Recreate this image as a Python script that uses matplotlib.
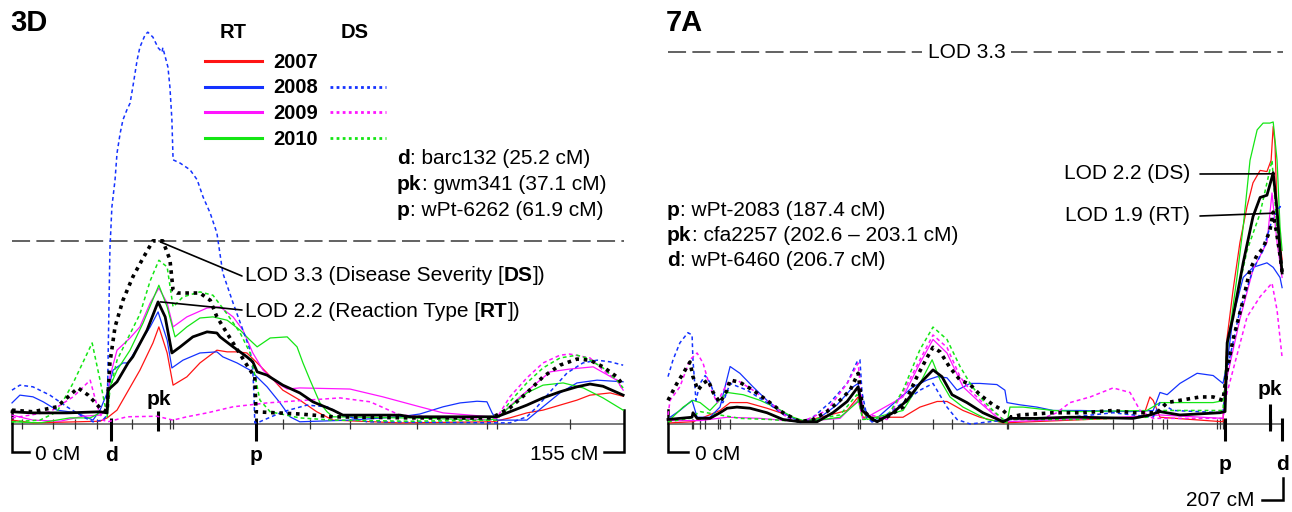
import numpy as np
import matplotlib
matplotlib.use('Agg')
import matplotlib.pyplot as plt
import matplotlib.transforms as mtransforms

plt.rcParams['font.family'] = ['Liberation Sans', 'DejaVu Sans']

YEAR_COLORS = {'2007': '#ff1414', '2008': '#1432ff', '2009': '#ff14ff', '2010': '#14e614'}
YEARS = ['2007', '2008', '2009', '2010']

# ---------------- chromosome 3D : (cM, LOD) ----------------
len_3d = 155.0
thr_3d = 3.3
mk_3d = {'d': 25.2, 'pk': 37.1, 'p': 61.9}
ticks_3d = [2.5, 10.4, 16.0, 21.5, 30.4, 40.0, 40.8, 68.6, 75.5, 85.6, 102.6, 120.3, 122.8, 141.3]

rt_mean_3d = [(0.0, 0.22), (5.3, 0.20), (13.9, 0.20), (22.3, 0.22), (24.1, 0.20), (24.3, 0.61), (26.6, 0.76),
              (29.4, 1.10), (30.6, 1.21), (34.2, 1.69), (37.0, 2.20), (38.8, 1.93), (40.5, 1.28), (42.6, 1.39),
              (45.8, 1.57), (49.4, 1.66), (51.9, 1.64), (52.7, 1.57), (56.0, 1.39), (59.5, 1.21), (61.0, 1.12),
              (62.1, 0.94), (64.6, 0.88), (68.6, 0.70), (72.9, 0.56), (76.2, 0.40), (81.3, 0.25), (83.8, 0.16),
              (89.9, 0.16), (98.3, 0.16), (100.8, 0.13), (121.1, 0.13), (122.8, 0.13), (126.1, 0.22),
              (130.4, 0.34), (134.5, 0.47), (138.8, 0.58), (143.1, 0.67), (146.4, 0.72), (149.7, 0.68),
              (154.8, 0.52)]
ds_mean_3d = [(0.0, 0.25), (5.3, 0.22), (11.4, 0.31), (14.7, 0.52), (16.7, 0.65), (19.3, 0.52), (22.3, 0.29),
              (24.1, 0.22), (24.3, 0.52), (24.8, 1.10), (26.1, 1.75), (28.1, 2.23), (30.6, 2.65), (33.2, 2.99),
              (35.7, 3.30), (38.2, 3.30), (40.0, 2.96), (40.8, 2.41), (41.8, 2.36), (47.6, 2.36), (50.2, 2.23),
              (51.9, 1.93), (56.0, 1.46), (60.3, 0.97), (61.5, 0.85), (61.8, 0.22), (72.9, 0.18), (81.3, 0.13),
              (100.8, 0.11), (121.1, 0.11), (122.8, 0.16), (126.1, 0.29), (130.4, 0.56), (134.5, 0.85),
              (138.8, 1.06), (143.1, 1.17), (146.4, 1.15), (149.7, 1.03), (153.2, 0.85), (154.8, 0.70)]
rt_3d_2007 = [(0.0, 0.07), (5.3, 0.02), (22.3, 0.05), (24.1, 0.11), (26.6, 0.25), (29.1, 0.56), (32.4, 0.97),
              (35.7, 1.46), (37.2, 1.75), (39.3, 1.28), (40.8, 0.70), (44.3, 0.85), (47.6, 1.10), (51.9, 1.33),
              (54.5, 1.30), (57.0, 1.30), (59.5, 1.28), (62.1, 1.10), (64.6, 0.92), (68.6, 0.61), (72.9, 0.43),
              (77.2, 0.22), (81.3, 0.07), (98.3, 0.02), (121.8, 0.04), (126.1, 0.11), (130.4, 0.20),
              (134.5, 0.25), (138.8, 0.34), (143.1, 0.43), (146.4, 0.52), (151.5, 0.56), (154.8, 0.50)]
rt_3d_2008 = [(0.0, 0.38), (2.0, 0.52), (5.3, 0.49), (7.9, 0.40), (11.4, 0.25), (16.5, 0.20), (20.5, 0.07),
              (22.3, 0.25), (24.1, 0.56), (25.6, 0.97), (28.1, 1.10), (29.4, 1.10), (32.4, 1.46), (35.0, 1.75),
              (37.0, 2.02), (39.3, 1.51), (40.5, 1.01), (43.3, 1.15), (47.6, 1.28), (51.9, 1.30), (53.4, 1.21),
              (57.0, 1.10), (60.3, 0.97), (64.6, 0.67), (67.9, 0.38), (70.4, 0.13), (72.9, 0.04), (85.6, 0.07),
              (98.3, 0.13), (103.3, 0.18), (109.2, 0.31), (113.5, 0.38), (117.8, 0.41), (120.3, 0.40),
              (121.6, 0.20), (122.8, 0.07), (130.4, 0.07), (134.5, 0.31), (138.8, 0.56), (143.1, 0.74),
              (148.2, 0.79), (154.8, 0.76)]
rt_3d_2009 = [(0.0, 0.16), (5.3, 0.07), (12.2, 0.05), (18.0, 0.14), (22.3, 0.16), (24.1, 0.25), (24.8, 0.85),
              (26.6, 1.33), (29.9, 1.55), (32.4, 1.75), (35.0, 2.18), (37.2, 2.45), (39.3, 2.18), (40.8, 1.75),
              (44.3, 1.93), (49.4, 2.09), (52.7, 2.11), (56.0, 1.93), (58.5, 1.69), (61.0, 1.28), (63.6, 0.97),
              (67.1, 0.74), (69.7, 0.63), (72.9, 0.65), (85.6, 0.63), (93.9, 0.49), (103.3, 0.31), (109.2, 0.20),
              (121.1, 0.13), (122.8, 0.11), (128.7, 0.49), (136.3, 0.94), (141.3, 0.99), (147.2, 1.03),
              (153.2, 0.79), (154.8, 0.61)]
rt_3d_2010 = [(0.0, 0.04), (7.1, 0.02), (14.7, 0.11), (19.8, 0.11), (22.3, 0.20), (24.1, 0.25), (24.8, 0.67),
              (26.6, 0.97), (29.9, 1.33), (33.2, 1.82), (37.2, 2.50), (39.3, 2.11), (41.3, 1.57), (44.3, 1.75),
              (47.6, 1.91), (50.9, 1.93), (54.5, 1.87), (57.8, 1.69), (60.3, 1.51), (62.1, 1.39), (65.4, 1.55),
              (69.7, 1.57), (72.2, 1.39), (73.7, 1.10), (75.5, 0.79), (78.0, 0.38), (79.8, 0.22), (81.3, 0.13),
              (98.3, 0.11), (100.8, 0.11), (121.1, 0.07), (122.8, 0.11), (126.1, 0.31), (130.4, 0.56),
              (134.5, 0.70), (139.6, 0.74), (144.7, 0.65), (149.7, 0.47), (154.8, 0.25)]
ds_3d_2008 = [(0.0, 0.61), (2.0, 0.70), (5.3, 0.67), (9.6, 0.52), (13.9, 0.31), (18.0, 0.13), (20.5, 0.04),
              (23.0, 0.07), (24.1, 0.16), (24.8, 3.14), (25.3, 3.91), (26.1, 4.40), (26.6, 4.88), (27.4, 5.24),
              (28.1, 5.48), (29.1, 5.66), (29.9, 5.78), (30.6, 6.07), (31.7, 6.56), (32.4, 6.79), (33.7, 7.01),
              (34.4, 7.06), (35.7, 6.97), (37.0, 6.78), (38.0, 6.70), (38.2, 6.78), (39.5, 6.43), (40.0, 6.07),
              (40.5, 5.48), (40.8, 4.76), (42.6, 4.70), (45.1, 4.58), (46.9, 4.40), (48.4, 4.09), (50.2, 3.80),
              (51.9, 3.44), (53.4, 2.72), (56.0, 2.18), (58.5, 1.69), (60.3, 1.33), (61.0, 0.97), (61.3, 0.49),
              (61.5, 0.02), (62.1, 0.02), (68.6, 0.22), (74.7, 0.34), (79.8, 0.31), (83.8, 0.16), (89.9, 0.04),
              (123.6, 0.02), (126.1, 0.02), (130.4, 0.13), (133.0, 0.31), (136.3, 0.58), (140.6, 0.92),
              (144.6, 1.10), (148.2, 1.15), (151.5, 1.12), (154.8, 1.06)]
ds_3d_2009 = [(0.0, 0.11), (4.6, 0.16), (9.6, 0.22), (15.5, 0.49), (19.8, 0.79), (21.5, 0.34), (23.0, 0.07),
              (24.3, 0.04), (29.1, 0.13), (36.7, 0.14), (40.8, 0.07), (44.3, 0.13), (49.4, 0.20), (56.0, 0.31),
              (64.6, 0.38), (68.6, 0.40), (74.7, 0.43), (83.1, 0.47), (90.7, 0.40), (98.3, 0.16), (121.1, 0.07),
              (122.8, 0.11), (126.1, 0.49), (130.4, 0.83), (134.5, 1.10), (138.8, 1.24), (141.3, 1.26),
              (146.4, 1.19), (149.7, 0.97), (153.2, 0.79), (154.8, 0.61)]
ds_3d_2010 = [(0.0, 0.04), (7.1, 0.07), (11.4, 0.22), (15.5, 0.74), (20.3, 1.46), (22.3, 0.79), (24.1, 0.13),
              (24.8, 0.61), (26.6, 1.15), (29.1, 1.51), (32.4, 1.98), (35.0, 2.58), (37.2, 2.95), (39.3, 2.83),
              (40.8, 2.11), (43.3, 2.29), (47.6, 2.38), (50.9, 2.32), (54.5, 1.98), (57.8, 1.64), (60.3, 1.28),
              (61.5, 0.88), (62.8, 0.43), (65.4, 0.22), (72.9, 0.11), (81.3, 0.07), (100.8, 0.05), (122.8, 0.07),
              (126.1, 0.40), (130.4, 0.74), (134.5, 1.01), (138.8, 1.19), (143.1, 1.24), (145.6, 1.19),
              (149.7, 1.01), (153.2, 0.79), (154.8, 0.65)]

# ---------------- chromosome 7A : (cM, LOD) ----------------
len_7a = 207.0
thr_7a = 3.3
mk_7a = {'p': 187.4, 'pk': 202.6, 'd': 206.7}
ticks_7a = [8.1, 8.4, 10.8, 12.5, 16.8, 17.5, 20.9, 55.5, 64.0, 64.6, 72.0, 89.2, 95.6, 114.1, 114.4,
            149.8, 156.5, 162.9, 166.6, 168.0, 184.8, 185.8, 186.8, 203.1]

rt_mean_7a = [(0.0, 0.04), (4.0, 0.05), (8.1, 0.06), (8.4, 0.10), (9.8, 0.05), (14.1, 0.05), (17.5, 0.10),
              (19.9, 0.14), (23.2, 0.15), (27.6, 0.14), (33.3, 0.10), (38.7, 0.04), (44.4, 0.02), (50.2, 0.02),
              (55.5, 0.10), (60.3, 0.20), (64.0, 0.33), (65.3, 0.12), (69.0, 0.04), (70.4, 0.02), (75.7, 0.10),
              (80.5, 0.21), (84.8, 0.36), (89.2, 0.48), (92.2, 0.42), (95.6, 0.26), (100.6, 0.19), (106.0, 0.10),
              (112.8, 0.02), (115.1, 0.05), (124.2, 0.05), (135.3, 0.06), (138.7, 0.06), (156.5, 0.05),
              (162.2, 0.08), (165.6, 0.11), (172.3, 0.08), (185.8, 0.10), (187.5, 0.11), (188.2, 0.72),
              (190.2, 0.95), (193.6, 1.43), (196.9, 1.84), (199.3, 2.01), (201.6, 2.03), (203.3, 2.19),
              (203.7, 2.23), (205.0, 1.90), (206.0, 1.54), (206.7, 1.34)]
ds_mean_7a = [(0.0, 0.21), (3.0, 0.36), (5.1, 0.45), (7.4, 0.55), (8.4, 0.42), (10.1, 0.30), (11.8, 0.36),
              (13.5, 0.39), (15.2, 0.28), (17.5, 0.19), (19.9, 0.30), (20.9, 0.39), (24.2, 0.37), (28.6, 0.30),
              (33.3, 0.21), (38.7, 0.10), (44.4, 0.02), (48.8, 0.04), (53.5, 0.11), (57.9, 0.21), (61.3, 0.30),
              (64.0, 0.45), (65.6, 0.12), (69.0, 0.04), (72.4, 0.04), (79.1, 0.15), (83.8, 0.42), (87.2, 0.59),
              (89.2, 0.68), (91.6, 0.64), (94.9, 0.50), (98.3, 0.39), (101.7, 0.35), (105.0, 0.26), (109.4, 0.17),
              (112.8, 0.12), (115.1, 0.06), (118.5, 0.08), (129.6, 0.10), (139.7, 0.10), (149.8, 0.12),
              (156.5, 0.10), (164.6, 0.10), (168.0, 0.19), (172.3, 0.21), (179.1, 0.24), (183.5, 0.24),
              (186.8, 0.21), (188.2, 0.48), (190.2, 0.75), (193.6, 1.10), (195.9, 1.37), (198.3, 1.50),
              (200.3, 1.56), (202.6, 1.72), (203.7, 1.88), (205.0, 1.67), (206.0, 1.50), (206.7, 1.35)]
rt_7a_2007 = [(0.7, 0.01), (8.4, 0.02), (17.5, 0.12), (20.9, 0.19), (26.6, 0.19), (33.3, 0.14), (40.1, 0.08),
              (45.4, 0.02), (60.3, 0.12), (64.0, 0.24), (65.6, 0.06), (79.1, 0.06), (84.8, 0.15), (90.6, 0.20),
              (93.9, 0.20), (99.3, 0.12), (105.0, 0.06), (112.8, 0.01), (159.9, 0.06), (162.2, 0.24),
              (163.3, 0.21), (165.6, 0.06), (186.8, 0.02), (188.2, 0.77), (190.2, 1.19), (192.5, 1.61),
              (194.9, 1.93), (196.9, 2.14), (199.3, 2.25), (201.6, 2.24), (203.0, 2.34), (203.7, 2.64),
              (204.3, 2.49), (205.0, 1.90), (206.0, 1.61), (206.7, 1.46)]
rt_7a_2008 = [(0.7, 0.06), (4.0, 0.12), (8.1, 0.21), (9.8, 0.06), (14.1, 0.06), (17.5, 0.15), (20.9, 0.51),
              (24.2, 0.45), (28.6, 0.33), (33.3, 0.21), (38.7, 0.10), (44.4, 0.02), (50.2, 0.04), (56.9, 0.17),
              (62.3, 0.33), (64.0, 0.36), (65.6, 0.15), (69.0, 0.02), (72.4, 0.10), (77.1, 0.21), (82.5, 0.33),
              (87.2, 0.39), (90.6, 0.42), (93.9, 0.41), (97.3, 0.30), (101.7, 0.36), (105.0, 0.36), (110.7, 0.35),
              (113.4, 0.30), (114.1, 0.19), (118.5, 0.17), (124.2, 0.15), (129.6, 0.12), (138.7, 0.12),
              (155.5, 0.11), (163.3, 0.12), (165.6, 0.28), (168.0, 0.26), (172.3, 0.36), (178.1, 0.45),
              (183.5, 0.43), (186.8, 0.36), (188.2, 0.54), (190.2, 0.95), (193.6, 1.30), (196.9, 1.39),
              (201.6, 1.43), (203.7, 1.39), (206.0, 1.30), (206.7, 1.21)]
rt_7a_2009 = [(0.0, 0.03), (10.8, 0.03), (19.9, 0.06), (31.0, 0.05), (44.4, 0.02), (57.9, 0.05), (64.0, 0.21),
              (65.6, 0.04), (79.1, 0.24), (84.8, 0.54), (89.2, 0.75), (93.9, 0.63), (99.3, 0.33), (105.0, 0.19),
              (110.7, 0.06), (112.8, 0.02), (145.4, 0.05), (165.6, 0.08), (186.8, 0.05), (188.2, 0.42),
              (192.5, 0.93), (196.9, 1.37), (201.6, 1.61), (203.3, 2.05), (205.0, 1.61), (206.7, 1.30)]
rt_7a_2010 = [(0.7, 0.04), (5.1, 0.15), (8.4, 0.21), (10.8, 0.19), (14.1, 0.12), (19.9, 0.28), (25.3, 0.26),
              (31.0, 0.21), (36.7, 0.14), (42.1, 0.06), (46.8, 0.02), (57.9, 0.06), (63.6, 0.19), (64.6, 0.21),
              (67.0, 0.04), (79.1, 0.12), (84.8, 0.36), (88.9, 0.57), (91.6, 0.39), (94.9, 0.24), (99.3, 0.15),
              (107.4, 0.04), (114.1, 0.01), (115.1, 0.15), (119.5, 0.15), (129.6, 0.12), (138.7, 0.11),
              (161.2, 0.12), (165.6, 0.19), (172.3, 0.19), (183.5, 0.19), (187.5, 0.21), (188.2, 0.66),
              (191.5, 1.30), (193.6, 1.75), (195.9, 2.34), (198.3, 2.61), (200.3, 2.67), (202.6, 2.67),
              (203.7, 2.68), (205.0, 2.34), (206.0, 1.75), (206.7, 1.54)]
ds_7a_2008 = [(0.0, 0.42), (1.7, 0.57), (4.0, 0.72), (6.7, 0.81), (8.1, 0.79), (8.4, 0.57), (9.4, 0.21),
              (10.8, 0.36), (12.5, 0.43), (14.1, 0.37), (16.5, 0.20), (18.5, 0.19), (20.9, 0.36), (26.6, 0.30),
              (33.3, 0.19), (40.1, 0.06), (44.4, 0.01), (48.8, 0.06), (54.5, 0.19), (60.3, 0.36), (63.6, 0.55),
              (64.6, 0.57), (65.3, 0.28), (67.0, 0.06), (69.0, 0.01), (72.4, 0.06), (79.1, 0.19), (84.8, 0.30),
              (89.2, 0.36), (93.9, 0.15), (97.3, 0.04), (101.7, 0.00), (115.1, 0.04), (135.3, 0.06),
              (149.8, 0.10), (163.3, 0.06), (165.6, 0.19), (170.0, 0.12), (186.8, 0.10), (188.2, 0.48),
              (192.5, 1.01), (196.9, 1.37), (200.3, 1.54), (203.3, 1.81), (206.0, 1.93), (206.7, 1.90)]
ds_7a_2009 = [(0.0, 0.08), (0.7, 0.21), (4.0, 0.33), (7.4, 0.57), (9.8, 0.63), (11.8, 0.54), (14.1, 0.33),
              (16.5, 0.19), (19.9, 0.36), (23.2, 0.39), (28.6, 0.30), (34.3, 0.19), (40.1, 0.06), (44.4, 0.01),
              (53.5, 0.12), (60.3, 0.36), (64.0, 0.54), (65.6, 0.10), (73.7, 0.04), (79.1, 0.28), (84.8, 0.57),
              (89.2, 0.79), (93.9, 0.68), (98.3, 0.42), (101.7, 0.30), (107.4, 0.15), (112.8, 0.04),
              (125.2, 0.04), (130.9, 0.10), (135.3, 0.19), (142.1, 0.24), (149.8, 0.32), (155.5, 0.28),
              (158.9, 0.12), (163.3, 0.05), (186.8, 0.05), (188.2, 0.28), (194.9, 0.95), (199.3, 1.13),
              (203.3, 1.25), (205.0, 1.01), (206.7, 0.59)]
ds_7a_2010 = [(0.0, 0.02), (7.4, 0.05), (10.8, 0.11), (17.5, 0.08), (24.2, 0.05), (34.3, 0.04), (44.4, 0.02),
              (57.9, 0.08), (63.6, 0.26), (65.6, 0.04), (73.7, 0.06), (79.1, 0.30), (84.8, 0.66), (89.2, 0.86),
              (93.9, 0.75), (98.3, 0.51), (101.7, 0.36), (105.0, 0.24), (109.4, 0.12), (112.8, 0.04),
              (138.7, 0.04), (161.2, 0.06), (165.6, 0.12), (172.3, 0.12), (186.8, 0.12), (188.2, 0.72),
              (191.5, 1.13), (194.9, 1.54), (199.3, 1.87), (203.3, 2.34), (205.0, 1.72), (206.7, 1.37)]

# ---------------- figure layout (pixel frame of the original) ----------------
W, H = 1292, 512
fig = plt.figure(figsize=(W / 100, H / 100), dpi=100)


def panel(x0, x1, cm0_px, px_per_cm, base_px, px_per_lod):
    ax = fig.add_axes([x0 / W, 0, (x1 - x0) / W, 1])
    ax.set_xlim((x0 - cm0_px) / px_per_cm, (x1 - cm0_px) / px_per_cm)
    ax.set_ylim((base_px - H) / px_per_lod, base_px / px_per_lod)
    ax.axis('off')
    return ax


ax3 = panel(0, 640, 12, 3.948, 424, 55.5)
ax7 = panel(640, W, 668, 2.971, 424, 112.7)

ov = fig.add_axes([0, 0, 1, 1])
ov.set_xlim(0, W)
ov.set_ylim(H, 0)
ov.axis('off')
ov.patch.set_alpha(0)
ov.set_zorder(5)

FS = 15


def draw_scan(ax, rt, ds, rt_mean, ds_mean, length, thr):
    ax.plot([0, length], [0, 0], color='#555555', lw=1.1, zorder=1)
    ax.plot([0, length], [thr, thr], color='#555555', lw=1.3, ls=(0, (10, 3.5)), zorder=1)
    for year, pts in rt.items():
        x, y = np.array(pts).T
        ax.plot(x, y, color=YEAR_COLORS[year], lw=0.9, zorder=3)
    for year, pts in ds.items():
        x, y = np.array(pts).T
        ax.plot(x, y, color=YEAR_COLORS[year], lw=1.1, ls=(0, (2.5, 2)), zorder=3)
    x, y = np.array(ds_mean).T
    ax.plot(x, y, color='black', lw=2.6, ls=(0, (1, 1.3)), zorder=4)
    x, y = np.array(rt_mean).T
    ax.plot(x, y, color='black', lw=2.0, zorder=4)


def rich(x, y, parts, size=FS):
    t = ov.text(x, y, parts[0][0], fontsize=size, fontweight='bold' if parts[0][1] else 'normal',
                va='baseline', ha='left')
    for s, b in parts[1:]:
        t = ov.annotate(s, xy=(1, 0), xycoords=t, fontsize=size,
                        fontweight='bold' if b else 'normal', va='bottom', ha='left')


draw_scan(ax3, {'2007': rt_3d_2007, '2008': rt_3d_2008, '2009': rt_3d_2009, '2010': rt_3d_2010},
          {'2008': ds_3d_2008, '2009': ds_3d_2009, '2010': ds_3d_2010},
          rt_mean_3d, ds_mean_3d, len_3d, thr_3d)
draw_scan(ax7, {'2007': rt_7a_2007, '2008': rt_7a_2008, '2009': rt_7a_2009, '2010': rt_7a_2010},
          {'2008': ds_7a_2008, '2009': ds_7a_2009, '2010': ds_7a_2010},
          rt_mean_7a, ds_mean_7a, len_7a, thr_7a)

# marker ticks on the linkage maps (x in cM, y in pixel rows)
tr3 = mtransforms.blended_transform_factory(ax3.transData, ov.transData)
tr7 = mtransforms.blended_transform_factory(ax7.transData, ov.transData)

ax3.vlines(ticks_3d, 419, 429, transform=tr3, color='#333333', lw=0.9)
ax3.vlines([mk_3d['d'], mk_3d['p']], 418, 441, transform=tr3, color='black', lw=2.2)
ax3.vlines([mk_3d['pk']], 411, 431, transform=tr3, color='black', lw=2.2)
ax3.plot([0, 0, 4.2], [410, 452, 452], transform=tr3, color='black', lw=1.8, solid_joinstyle='miter')
ax3.plot([len_3d, len_3d, len_3d - 5], [410, 452, 452], transform=tr3, color='black', lw=1.8,
         solid_joinstyle='miter')
ov.text(35, 460, '0 cM', fontsize=FS, va='baseline')
ov.text(598, 460, '%d cM' % len_3d, fontsize=FS, va='baseline', ha='right')
ax3.text(mk_3d['d'], 461, 'd', transform=tr3, fontsize=FS, fontweight='bold', ha='center', va='baseline')
ax3.text(mk_3d['p'], 461, 'p', transform=tr3, fontsize=FS, fontweight='bold', ha='center', va='baseline')
ax3.text(mk_3d['pk'], 405, 'pk', transform=tr3, fontsize=FS, fontweight='bold', ha='center', va='baseline')

ax7.vlines(ticks_7a, 419, 429, transform=tr7, color='#333333', lw=0.9)
ax7.vlines([mk_7a['d'], mk_7a['p']], 418, 441, transform=tr7, color='black', lw=2.2)
ax7.vlines([mk_7a['pk']], 404, 431, transform=tr7, color='black', lw=2.2)
ax7.plot([0, 0, 6.7], [410, 452, 452], transform=tr7, color='black', lw=1.8, solid_joinstyle='miter')
ax7.plot([len_7a, len_7a, len_7a - 7], [478, 500, 500], transform=tr7, color='black', lw=1.8,
         solid_joinstyle='miter')
ov.text(695, 460, '0 cM', fontsize=FS, va='baseline')
ov.text(1255, 506, '%d cM' % len_7a, fontsize=FS, va='baseline', ha='right')
ax7.text(mk_7a['p'], 470, 'p', transform=tr7, fontsize=FS, fontweight='bold', ha='center', va='baseline')
ax7.text(mk_7a['d'], 470, 'd', transform=tr7, fontsize=FS, fontweight='bold', ha='center', va='baseline')
ax7.text(mk_7a['pk'], 395, 'pk', transform=tr7, fontsize=FS, fontweight='bold', ha='center', va='baseline')

# panel titles
ov.text(10, 23, '3D', fontsize=21, fontweight='bold', va='center')
ov.text(666, 23, '7A', fontsize=21, fontweight='bold', va='center')

# legend
ov.text(233, 32, 'RT', fontsize=14.5, fontweight='bold', ha='center', va='center')
ov.text(355, 32, 'DS', fontsize=14.5, fontweight='bold', ha='center', va='center')
for i, year in enumerate(YEARS):
    yy = 61 + i * 25.7
    ov.plot([205, 262], [yy, yy], color=YEAR_COLORS[year], lw=2.2)
    ov.text(273, yy + 1, year, fontsize=14.5, fontweight='bold', va='center')
    if year != '2007':
        ov.plot([330, 386], [yy, yy], color=YEAR_COLORS[year], lw=2.0, ls=(0, (1, 1.2)))

# marker descriptions
rich(397, 164, [('d', True), (': barc132 (25.2 cM)', False)])
rich(397, 190, [('pk', True), (': gwm341 (37.1 cM)', False)])
rich(397, 216, [('p', True), (': wPt-6262 (61.9 cM)', False)])
rich(667, 216, [('p', True), (': wPt-2083 (187.4 cM)', False)])
rich(667, 241, [('pk', True), (': cfa2257 (202.6 \u2013 203.1 cM)', False)])
rich(667, 266, [('d', True), (': wPt-6460 (206.7 cM)', False)])

# peak labels with leader lines
rich(245, 281, [('LOD 3.3 (Disease Severity [', False), ('DS', True), ('])', False)])
rich(245, 317, [('LOD 2.2 (Reaction Type [', False), ('RT', True), ('])', False)])
ax3.annotate('', xy=(37.6, 3.28), xytext=(242, 276), textcoords=ov.transData,
             arrowprops=dict(arrowstyle='-', lw=1.2, color='black', shrinkA=0, shrinkB=0))
ax3.annotate('', xy=(37.6, 2.20), xytext=(242, 310), textcoords=ov.transData,
             arrowprops=dict(arrowstyle='-', lw=1.2, color='black', shrinkA=0, shrinkB=0))

ov.text(1190, 179, 'LOD 2.2 (DS)', fontsize=FS, ha='right', va='baseline')
ov.text(1190, 221, 'LOD 1.9 (RT)', fontsize=FS, ha='right', va='baseline')
ax7.annotate('', xy=(203.3, 2.22), xytext=(1200, 174), textcoords=ov.transData,
             arrowprops=dict(arrowstyle='-', lw=1.2, color='black', shrinkA=0, shrinkB=0))
ax7.annotate('', xy=(203.3, 1.87), xytext=(1200, 216), textcoords=ov.transData,
             arrowprops=dict(arrowstyle='-', lw=1.2, color='black', shrinkA=0, shrinkB=0))

ax7.text(100.6, thr_7a, 'LOD 3.3', fontsize=FS, ha='center', va='center', zorder=6,
         bbox=dict(facecolor='white', edgecolor='none', pad=4))

fig.savefig('out.png', dpi=100, facecolor='white')
